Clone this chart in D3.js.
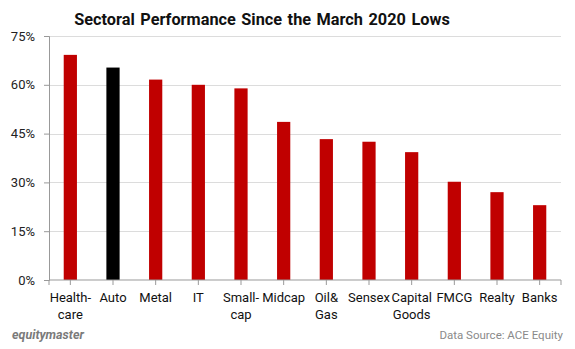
<!DOCTYPE html>
<html>
<head>
<meta charset="utf-8">
<script src="https://cdn.jsdelivr.net/npm/d3@7"></script>
<style>
  body { margin: 0; background: #fff; }
  #chart { width: 575px; height: 349px; }
  text { font-family: Roboto, "Noto Sans", sans-serif; }
</style>
</head>
<body>
<div id="chart"></div>
<script>
// sectors and their gain since the March 2020 lows (%)
const sectors = [["Health-", "care"], ["Auto"], ["Metal"], ["IT"], ["Small-", "cap"], ["Midcap"],
  ["Oil&", "Gas"], ["Sensex"], ["Capital", "Goods"], ["FMCG"], ["Realty"], ["Banks"]];
const gains = [69.2, 65.3, 61.6, 60.0, 58.9, 48.6, 43.3, 42.5, 39.3, 30.2, 27.0, 23.0];
const highlight = ["Auto"];
const yTicks = [0, 15, 30, 45, 60, 75];

const W = 575, H = 349;
const m = { top: 36, right: 14, bottom: 69, left: 49 };

const svg = d3.select("#chart").append("svg").attr("width", W).attr("height", H);

const keys = sectors.map(s => s.join(""));
const x = d3.scaleBand().domain(keys).range([m.left, W - m.right]).paddingInner(0.69).paddingOuter(0.345);
const y = d3.scaleLinear().domain([0, 75]).range([H - m.bottom, m.top]);

// title
svg.append("text").attr("x", 262).attr("y", 25).attr("text-anchor", "middle")
  .attr("font-size", 16.3).attr("font-weight", "bold").attr("fill", "#111")
  .attr("word-spacing", 1.5)
  .text("Sectoral Performance Since the March 2020 Lows");

// gridlines
svg.append("g").selectAll("line").data(yTicks.filter(d => d > 0)).join("line")
  .attr("x1", m.left).attr("x2", W - m.right)
  .attr("y1", d => Math.round(y(d)) + 0.5).attr("y2", d => Math.round(y(d)) + 0.5)
  .attr("stroke", "#dcdcdc").attr("stroke-width", 1.2);

// bars
svg.append("g").selectAll("rect").data(gains).join("rect")
  .attr("x", (d, i) => x(keys[i])).attr("width", x.bandwidth())
  .attr("y", d => y(d)).attr("height", d => y(0) - y(d))
  .attr("fill", (d, i) => highlight.includes(keys[i]) ? "#000" : "#c00000");

// y axis
const yAxis = svg.append("g").attr("transform", `translate(${m.left},0)`)
  .call(d3.axisLeft(y).tickValues(yTicks).tickSize(5).tickFormat(d => d + "%"));
yAxis.select(".domain").attr("stroke", "#999");
yAxis.selectAll(".tick line").attr("stroke", "#999");
yAxis.selectAll(".tick text").attr("x", -14).attr("font-size", 13).attr("fill", "#222")
  .attr("font-family", "Roboto, sans-serif");

// x axis: ticks under each bar plus both ends
const xAxis = svg.append("g").attr("transform", `translate(0,${y(0)})`);
xAxis.append("line").attr("x1", m.left).attr("x2", W - m.right).attr("stroke", "#999");
const tickXs = [m.left, ...keys.map(k => x(k) + x.bandwidth() / 2), W - m.right];
xAxis.selectAll("line.tick").data(tickXs).join("line").attr("class", "tick")
  .attr("x1", d => d).attr("x2", d => d).attr("y1", 0).attr("y2", 5).attr("stroke", "#999");

const lab = svg.append("g").selectAll("text").data(sectors).join("text")
  .attr("x", (d, i) => x(keys[i]) + x.bandwidth() / 2).attr("y", y(0) + 22)
  .attr("text-anchor", "middle").attr("font-size", 13).attr("fill", "#111");
lab.selectAll("tspan").data(d => d).join("tspan")
  .attr("x", function () { return this.parentNode.getAttribute("x"); })
  .attr("dy", (d, i) => i ? 16.5 : 0).text(d => d);

// footer
svg.append("text").attr("x", 12).attr("y", 339).attr("font-size", 12.5)
  .attr("font-weight", "bold").attr("font-style", "italic").attr("fill", "#7a7a7a")
  .text("equitymaster");
svg.append("text").attr("x", 563).attr("y", 339).attr("text-anchor", "end")
  .attr("font-size", 11.5).attr("fill", "#8a8a8a").text("Data Source: ACE Equity");
</script>
</body>
</html>
